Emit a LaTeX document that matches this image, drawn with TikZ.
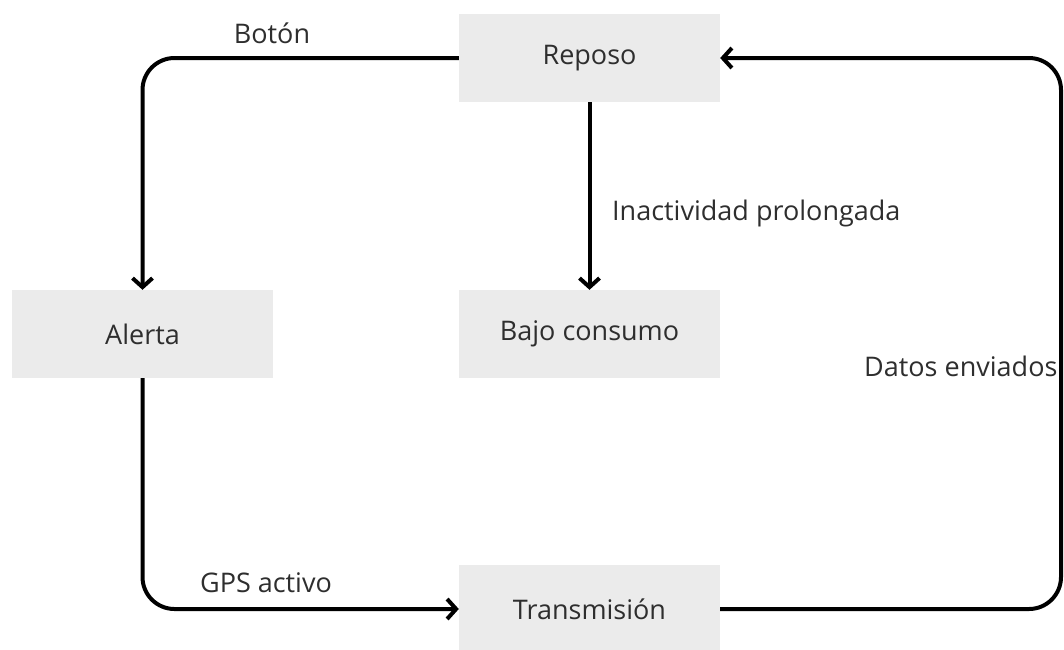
\documentclass[tikz,border=0pt]{standalone}
\usepackage{fontspec}
\setmainfont{Open Sans}
\usetikzlibrary{arrows.meta}
\definecolor{boxgray}{HTML}{EBEBEB}
\definecolor{textgray}{HTML}{2E2E2E}
\begin{document}
\begin{tikzpicture}[x=1pt,y=-1pt,
  state/.style={fill=boxgray, minimum width=261pt, minimum height=88pt, inner sep=0pt,
    font=\fontsize{27}{32}\selectfont, text=textgray},
  conn/.style={line width=4pt, rounded corners=32pt,
    -{Straight Barb[length=9pt,width=20pt,line width=4pt]}},
  lab/.style={font=\fontsize{27}{32}\selectfont, text=textgray, inner sep=0pt}]
\useasboundingbox (0,0) rectangle (1064,649);
\node[state] (rep) at (589.5,58) {Reposo};
\node[state] (ale) at (142.5,334) {Alerta};
\node[state] (baj) at (589.5,334) {Bajo consumo};
\node[state] (tra) at (589.5,609) {Transmisión};
\coordinate (rc) at (1061,0);
\draw[conn] (rep.west) -| (ale.north);
\draw[conn] (rep.south) -- (baj.north);
\draw[conn] (ale.south) |- (tra.west);
\draw[conn] (tra.east) -- (tra.east -| rc) -- (rep.east -| rc) -- (rep.east);
\node[lab] (l1) at (272,33) {Botón};
\node[lab, anchor=west] (l2) at (612,213) {Inactividad prolongada};
\node[lab, anchor=west] (l3) at (864,366) {Datos enviados};
\node[lab] (l4) at (266,583) {GPS activo};
\end{tikzpicture}
\end{document}
